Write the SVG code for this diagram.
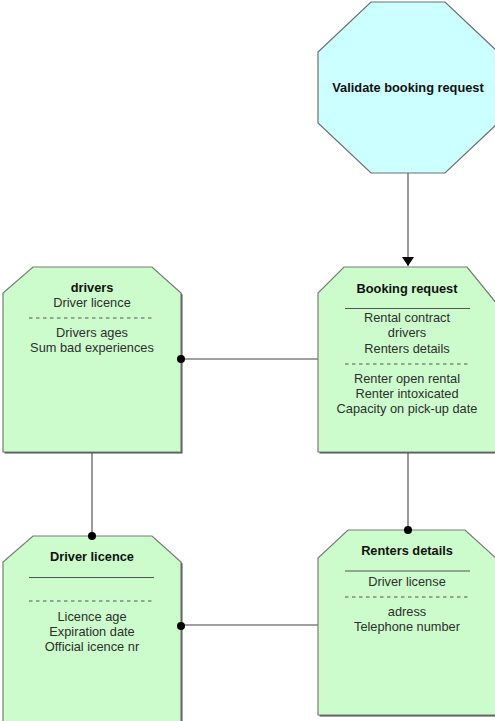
<svg xmlns="http://www.w3.org/2000/svg" width="495" height="721" viewBox="0 0 495 721">
  <defs>
    <style>
      .box { fill: #ccfccc; stroke: #7a7a7a; stroke-width: 1.2; }
      .shadow { fill: #4a4a4a; }
      .oct { fill: #ccffff; stroke: #6e6e6e; stroke-width: 1.2; }
      .title { font-family: "Liberation Sans", Arial, sans-serif; font-size: 12.8px; font-weight: bold; fill: #111; text-anchor: middle; }
      .attr { font-family: "Liberation Sans", Arial, sans-serif; font-size: 12.8px; fill: #2e2e2e; text-anchor: middle; }
      .sep { stroke: #555; stroke-width: 1; }
      .dash { stroke: #555; stroke-width: 1; stroke-dasharray: 3.5 3.5; }
      .link { stroke: #808080; stroke-width: 1.6; fill: none; }
      .dot { fill: #000; }
    </style>
    <marker id="arrow" viewBox="0 0 9 12" refX="9" refY="6" markerWidth="9" markerHeight="12" markerUnits="userSpaceOnUse" orient="auto">
      <path d="M0,0 L9,6 L0,12 Z" fill="#000"/>
    </marker>
  </defs>
  <rect width="495" height="721" fill="#fff"/>

  <!-- connectors -->
  <g id="connectors">
    <line class="link" x1="408" y1="173" x2="408" y2="266" marker-end="url(#arrow)"/>
    <line class="link" x1="181" y1="359" x2="318" y2="359"/>
    <line class="link" x1="92" y1="452" x2="92" y2="536"/>
    <line class="link" x1="408" y1="452" x2="408" y2="530"/>
    <line class="link" x1="181" y1="625" x2="318" y2="625"/>
  </g>

  <!-- process node -->
  <g id="validate">
    <polygon class="oct" points="371,2 445,2 498,52 498,123 445,173 371,173 318,123 318,52"/>
    <text class="title" x="408" y="92">Validate booking request</text>
  </g>

  <!-- drivers -->
  <g id="drivers">
    <polygon class="shadow" points="34.5,268.5 153.5,268.5 182.5,294.5 182.5,453.5 4.5,453.5 4.5,294.5"/>
    <polygon class="box" points="33,267 152,267 181,293 181,452 3,452 3,293"/>
    <text class="title" x="92" y="292">drivers</text>
    <text class="attr" x="92" y="307">Driver licence</text>
    <line class="dash" x1="29" y1="318" x2="155" y2="318"/>
    <text class="attr" x="92" y="337">Drivers ages</text>
    <text class="attr" x="92" y="352">Sum bad experiences</text>
  </g>

  <!-- booking request -->
  <g id="booking-request">
    <polygon class="shadow" points="345.5,268.5 468.5,268.5 498.5,305.5 498.5,453.5 319.5,453.5 319.5,294.5"/>
    <polygon class="box" points="344,267 467,267 497,304 497,452 318,452 318,293"/>
    <text class="title" x="407" y="293">Booking request</text>
    <line class="sep" x1="345" y1="308.5" x2="470" y2="308.5"/>
    <text class="attr" x="407" y="322">Rental contract</text>
    <text class="attr" x="407" y="337">drivers</text>
    <text class="attr" x="407" y="353">Renters details</text>
    <line class="dash" x1="345" y1="364" x2="471" y2="364"/>
    <text class="attr" x="407" y="383">Renter open rental</text>
    <text class="attr" x="407" y="398">Renter intoxicated</text>
    <text class="attr" x="407" y="413">Capacity on pick-up date</text>
  </g>

  <!-- driver licence -->
  <g id="driver-licence">
    <polygon class="shadow" points="34.5,537.5 153.5,537.5 182.5,563.5 182.5,726 4.5,726 4.5,563.5"/>
    <polygon class="box" points="33,536 152,536 181,562 181,725 3,725 3,562"/>
    <text class="title" x="92" y="561">Driver licence</text>
    <line class="sep" x1="29" y1="577.5" x2="154" y2="577.5"/>
    <line class="dash" x1="29" y1="601" x2="155" y2="601"/>
    <text class="attr" x="92" y="621">Licence age</text>
    <text class="attr" x="92" y="636">Expiration date</text>
    <text class="attr" x="92" y="651">Official icence nr</text>
  </g>

  <!-- renters details -->
  <g id="renters-details">
    <polygon class="shadow" points="349.5,531.5 466.5,531.5 498.5,560.5 498.5,716.5 319.5,716.5 319.5,559.5"/>
    <polygon class="box" points="348,530 465,530 497,559 497,715 318,715 318,558"/>
    <text class="title" x="407" y="555">Renters details</text>
    <line class="sep" x1="345" y1="571" x2="470" y2="571"/>
    <text class="attr" x="407" y="585.5">Driver license</text>
    <line class="dash" x1="345" y1="597" x2="471" y2="597"/>
    <text class="attr" x="407" y="616">adress</text>
    <text class="attr" x="407" y="631">Telephone number</text>
  </g>

  <!-- connection points -->
  <g id="dots">
    <circle class="dot" cx="181" cy="359" r="4"/>
    <circle class="dot" cx="92" cy="536" r="4"/>
    <circle class="dot" cx="408" cy="530" r="4"/>
    <circle class="dot" cx="181" cy="626" r="4"/>
  </g>
</svg>
